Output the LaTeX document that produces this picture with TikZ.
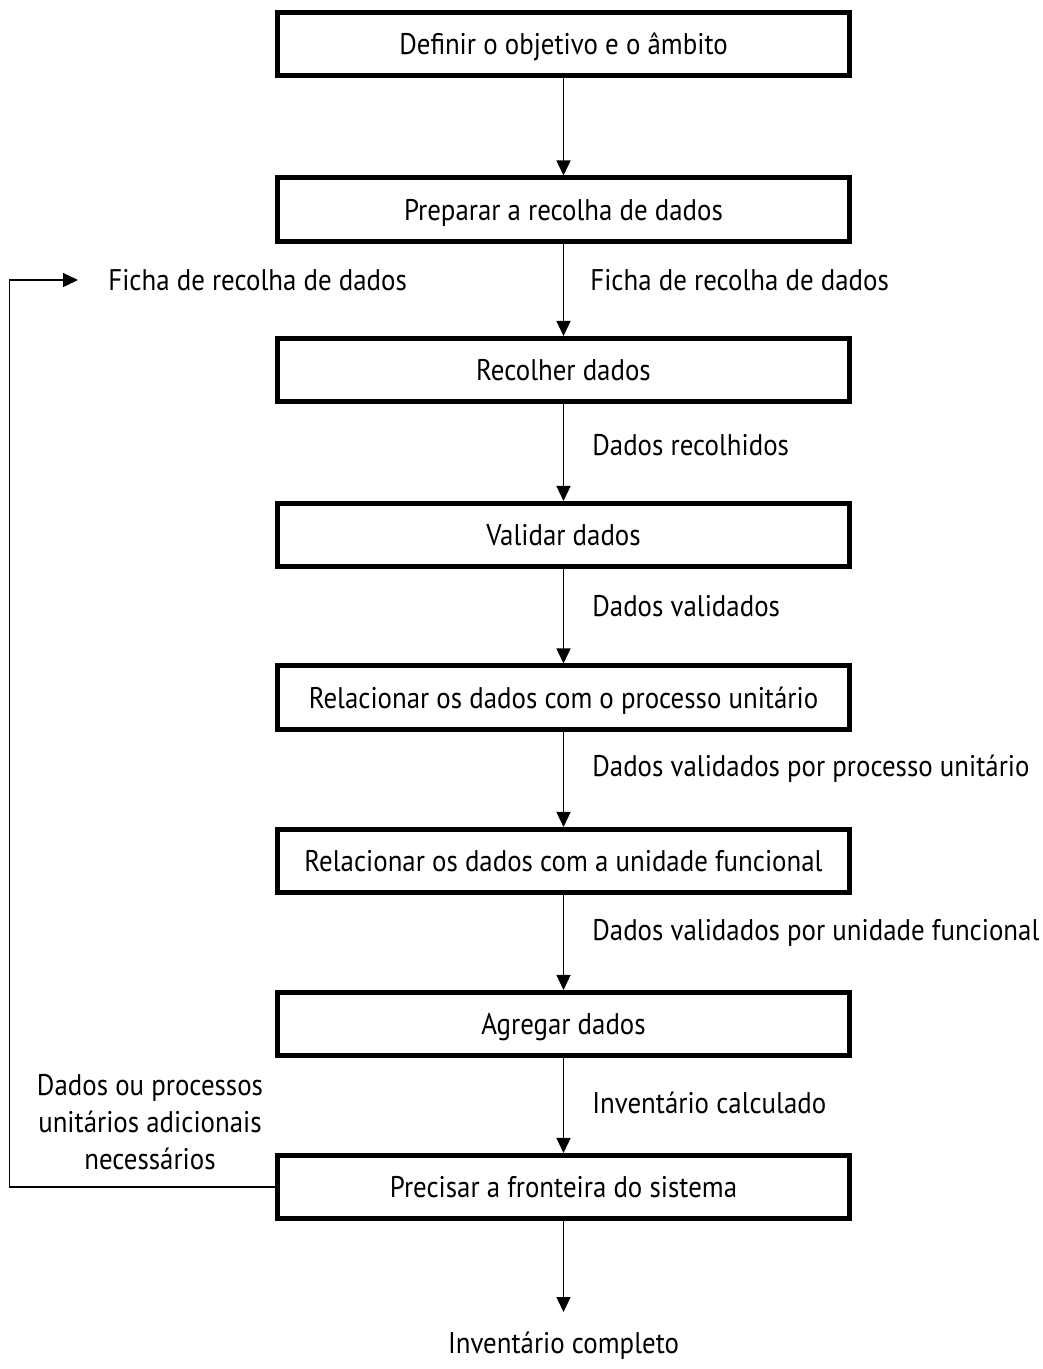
\documentclass[tikz,border=0pt]{standalone}
\usepackage{fontspec}
\setmainfont{PT Sans}[FakeStretch=0.9]
\usetikzlibrary{positioning,arrows.meta}

\begin{document}
\begin{tikzpicture}[
  stepbox/.style={draw, rectangle, line width=2.6pt,
             minimum width=11.44cm, minimum height=1.27cm,
             align=center, text height=16.5pt, text depth=4pt,
             font=\fontsize{17}{20}\selectfont},
  arr/.style={-{Triangle[length=0.3cm,width=0.28cm]}, line width=0.8pt},
  lbl/.style={font=\fontsize{17}{20}\selectfont, anchor=west, inner sep=0pt}
]
\useasboundingbox (0,0) rectangle (20.86,-27.38);

%% ═══════════════════════════════════════════════
%% main chain of steps
%% ═══════════════════════════════════════════════

\node[stepbox] (s_goal)  at (11.27,  -0.88) {Definir o objetivo e o âmbito};
\node[stepbox] (s_prep)  at (11.27,  -4.19) {Preparar a recolha de dados};
\node[stepbox] (s_coll)  at (11.27,  -7.40) {Recolher dados};
\node[stepbox] (s_val)   at (11.27, -10.70) {Validar dados};
\node[stepbox] (s_unit)  at (11.27, -13.95) {Relacionar os dados com o processo unitário};
\node[stepbox] (s_func)  at (11.27, -17.22) {Relacionar os dados com a unidade funcional};
\node[stepbox] (s_aggr)  at (11.27, -20.48) {Agregar dados};
\node[stepbox] (s_bound) at (11.27, -23.74) {Precisar a fronteira do sistema};

% chain edges
\draw[arr] (s_goal)  -- (s_prep);
\draw[arr] (s_prep)  -- (s_coll);
\draw[arr] (s_coll)  -- (s_val);
\draw[arr] (s_val)   -- (s_unit);
\draw[arr] (s_unit)  -- (s_func);
\draw[arr] (s_func)  -- (s_aggr);
\draw[arr] (s_aggr)  -- (s_bound);

% edge labels
\node[lbl] (l_sheet) at (11.80,  -5.60) {Ficha de recolha de dados};
\node[lbl] (l_coll)  at (11.84,  -8.90) {Dados recolhidos};
\node[lbl] (l_val)   at (11.84, -12.12) {Dados validados};
\node[lbl] (l_unit)  at (11.84, -15.38) {Dados validados por processo unitário};
\node[lbl] (l_func)  at (11.84, -18.66) {Dados validados por unidade funcional};
\node[lbl] (l_inv)   at (11.84, -22.06) {Inventário calculado};

%% ── output ──────────────────────────────────────
\coordinate (c_out) at (11.27, -26.24);
\draw[arr] (s_bound) -- (c_out);
\node[font=\fontsize{17}{20}\selectfont] (l_done) at (11.27, -26.92) {Inventário completo};

%% ── feedback loop ───────────────────────────────
\node[lbl] (l_back) at (2.16, -5.60) {Ficha de recolha de dados};
\node[font=\fontsize{17}{20}\selectfont, align=center] (l_more) at (3.00, -22.44)
  {Dados ou processos\\[1.2pt] unitários adicionais\\[1.2pt] necessários};
\coordinate (c_back) at (1.56, -5.60);
\draw[arr] (s_bound.west) -- ++(-5.31,0) |- (c_back);

\end{tikzpicture}
\end{document}
